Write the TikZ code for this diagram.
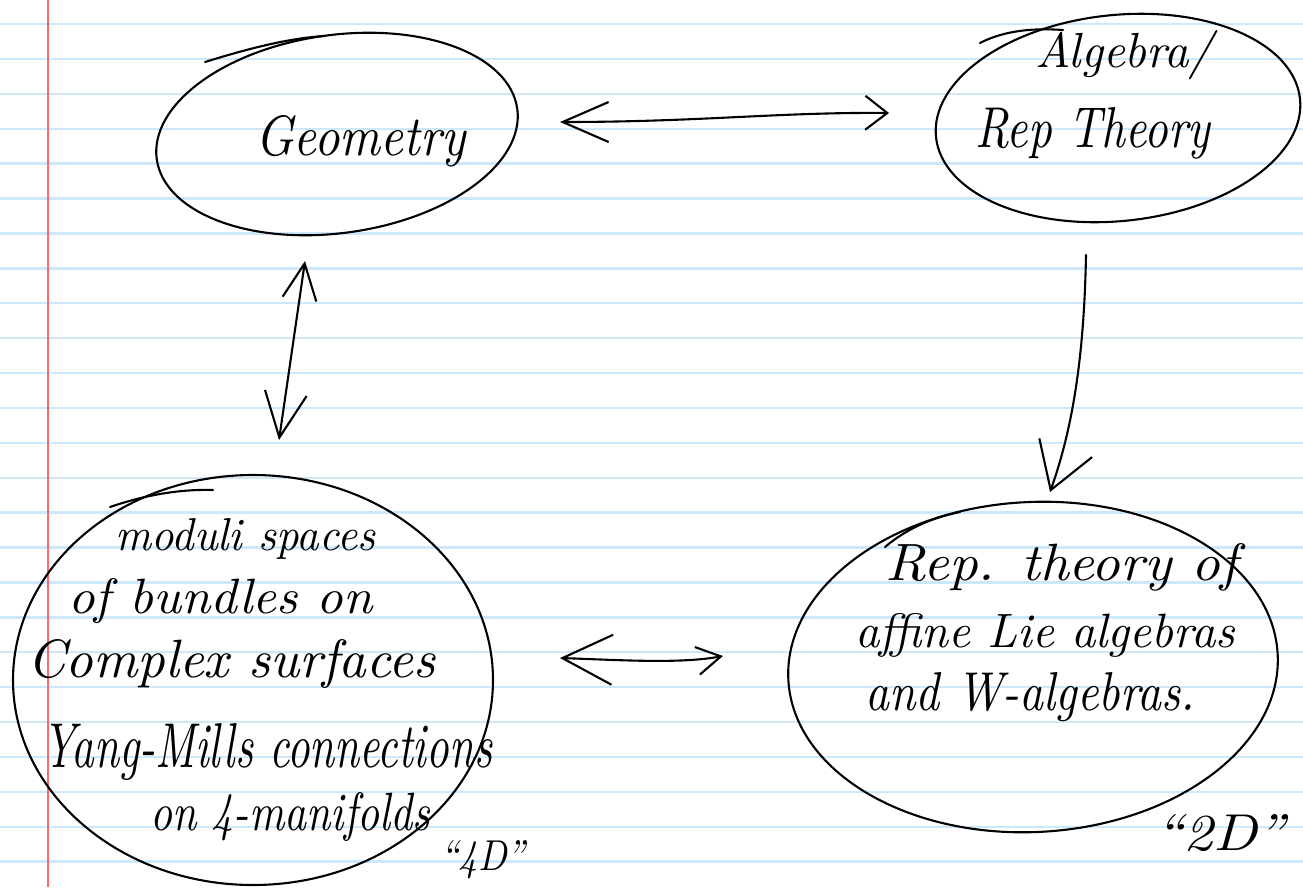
\documentclass[tikz,border=0pt]{standalone}
\usetikzlibrary{shapes.geometric,arrows.meta}
\definecolor{ruleblue}{RGB}{204,232,250}
\definecolor{marginred}{RGB}{255,105,105}
\newcommand{\fitw}[3]{\resizebox{#1}{#2}{\itshape #3}}
\begin{document}
\begin{tikzpicture}[x=1pt,y=-1pt,
  ink/.style={line width=2.1pt, line cap=round, line join=round, black},
  blob/.style={ink, draw, ellipse, inner sep=0pt},
  txt/.style={anchor=base west, inner sep=0pt},
  rule/.style={ruleblue, line width=2.4pt},
  ]
\useasboundingbox (0,0) rectangle (1303,887);
\fill[white] (0,0) rectangle (1303,887);
\foreach \k in {0,...,24}{
  \pgfmathsetmacro\yy{24+34.9*\k}
  \draw[rule] (0,\yy) -- (1303,\yy);
}
\draw[marginred, line width=2.2pt] (48,0) -- (48,887);

% blobs
\node[blob, minimum width=364pt, minimum height=198pt, rotate=8] (geo) at (337,134) {};
\node[blob, minimum width=366pt, minimum height=206pt, rotate=6] (alg) at (1118,118) {};
\node[blob, minimum width=480pt, minimum height=410pt] (mod) at (253,680) {};
\node[blob, minimum width=490pt, minimum height=330pt, rotate=3] (rep) at (1033,667) {};

% overlap tails of the strokes
\draw[ink] (205,62) .. controls (250,48) and (290,38) .. (325,36);
\draw[ink] (980,43) .. controls (1005,30) and (1035,28) .. (1063,30);
\draw[ink] (110,507) .. controls (145,495) and (180,489) .. (213,490);
\draw[ink] (885,547) .. controls (905,530) and (930,518) .. (960,512);

% texts
\node[txt] (geoT) at (255,155) {\fitw{210pt}{40pt}{Geometry}};
\node[txt] (algT1) at (1035,67) {\fitw{178pt}{37pt}{Algebra/}};
\node[txt] (algT2) at (975,147) {\fitw{235pt}{40pt}{Rep Theory}};
\node[txt] (modT1) at (115,550) {\fitw{260pt}{32pt}{moduli spaces}};
\node[txt] (modT2) at (68,613) {\fitw{304pt}{35pt}{of bundles on}};
\node[txt] (modT3) at (27,677) {\fitw{408pt}{38pt}{Complex surfaces}};
\node[txt] (modT4) at (42,767) {\fitw{450pt}{44pt}{Yang-Mills connections}};
\node[txt] (modT5) at (150,830) {\fitw{280pt}{38pt}{on 4-manifolds}};
\node[txt] (fourD) at (440,870) {\fitw{85pt}{30pt}{\textquotedblleft 4D\textquotedblright}};
\node[txt] (repT1) at (885,580) {\fitw{352pt}{37pt}{Rep. theory of}};
\node[txt] (repT2) at (855,647) {\fitw{380pt}{34pt}{affine Lie algebras}};
\node[txt] (repT3) at (865,710) {\fitw{330pt}{38pt}{and W-algebras.}};
\node[txt] (twoD) at (1155,850) {\fitw{130pt}{36pt}{\textquotedblleft 2D\textquotedblright}};

% connectors
\coordinate (ga) at (560,122); \coordinate (ag) at (889,113);
\draw[ink, {Straight Barb[length=46pt,width=40pt]}-{Straight Barb[length=22pt,width=34pt]}]
  (ga) .. controls (700,122) and (780,112) .. (ag);
\coordinate (gm) at (305,261); \coordinate (mg) at (279,440);
\draw[ink, {Straight Barb[length=36pt,width=34pt]}-{Straight Barb[length=45pt,width=42pt]}]
  (gm) -- (mg);
\coordinate (ar) at (1086,255); \coordinate (ra) at (1050,492);
\draw[ink, -{Straight Barb[length=45pt,width=56pt]}]
  (ar) .. controls (1084,360) and (1072,430) .. (ra);
\coordinate (mr) at (560,658); \coordinate (rm) at (723,656);
\draw[ink, {Straight Barb[length=50pt,width=50pt]}-{Straight Barb[length=24pt,width=28pt]}]
  (mr) .. controls (620,660) and (680,664) .. (rm);
\end{tikzpicture}
\end{document}
